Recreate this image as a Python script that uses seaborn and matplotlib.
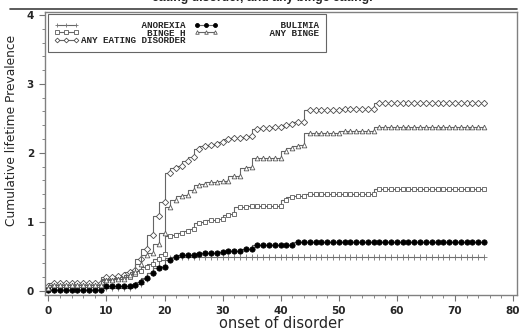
import pandas as pd
import seaborn as sns
import matplotlib.pyplot as plt
from matplotlib.lines import Line2D
from matplotlib.font_manager import FontProperties
from matplotlib.ticker import MultipleLocator

# Edad de inicio (0..75) y prevalencia acumulada por trastorno
ages = list(range(76))

anorexia = [0.01, 0.01, 0.01, 0.01, 0.01, 0.01, 0.01, 0.01, 0.01, 0.01,
            0.04, 0.04, 0.04, 0.04, 0.04, 0.06, 0.10, 0.17, 0.25, 0.36,
            0.44, 0.47, 0.49, 0.49, 0.49, 0.49, 0.49, 0.49, 0.49, 0.49,
            0.49, 0.49, 0.49, 0.49, 0.49, 0.49, 0.49, 0.49, 0.49, 0.49,
            0.49, 0.49, 0.49, 0.49, 0.49, 0.49, 0.49, 0.49, 0.49, 0.49,
            0.49, 0.49, 0.49, 0.49, 0.49, 0.49, 0.49, 0.49, 0.49, 0.49,
            0.49, 0.49, 0.49, 0.49, 0.49, 0.49, 0.49, 0.49, 0.49, 0.49,
            0.49, 0.49, 0.49, 0.49, 0.49, 0.49]

bulimia = [0.01, 0.01, 0.01, 0.01, 0.01, 0.01, 0.01, 0.01, 0.01, 0.01,
           0.06, 0.06, 0.06, 0.06, 0.06, 0.08, 0.12, 0.18, 0.26, 0.33,
           0.34, 0.45, 0.48, 0.51, 0.52, 0.52, 0.53, 0.54, 0.55, 0.55,
           0.56, 0.57, 0.57, 0.58, 0.60, 0.61, 0.66, 0.66, 0.66, 0.66,
           0.66, 0.66, 0.66, 0.70, 0.71, 0.71, 0.71, 0.71, 0.71, 0.71,
           0.71, 0.71, 0.71, 0.71, 0.71, 0.71, 0.71, 0.71, 0.71, 0.71,
           0.71, 0.71, 0.71, 0.71, 0.71, 0.71, 0.71, 0.71, 0.71, 0.71,
           0.71, 0.71, 0.71, 0.71, 0.71, 0.71]

binge_h = [0.03, 0.05, 0.05, 0.05, 0.05, 0.05, 0.05, 0.05, 0.05, 0.05,
           0.17, 0.17, 0.18, 0.19, 0.19, 0.24, 0.29, 0.34, 0.38, 0.46,
           0.53, 0.79, 0.80, 0.84, 0.86, 0.89, 0.98, 0.99, 1.02, 1.03,
           1.04, 1.10, 1.11, 1.22, 1.22, 1.23, 1.23, 1.23, 1.23, 1.23,
           1.23, 1.32, 1.36, 1.37, 1.37, 1.40, 1.40, 1.40, 1.40, 1.40,
           1.40, 1.40, 1.40, 1.40, 1.40, 1.40, 1.40, 1.47, 1.47, 1.47,
           1.47, 1.47, 1.47, 1.47, 1.47, 1.47, 1.47, 1.47, 1.47, 1.47,
           1.47, 1.47, 1.47, 1.47, 1.47, 1.47]

any_binge = [0.03, 0.08, 0.08, 0.08, 0.08, 0.08, 0.08, 0.08, 0.08, 0.08,
             0.15, 0.15, 0.16, 0.17, 0.22, 0.27, 0.38, 0.52, 0.55, 0.68,
             0.84, 1.22, 1.32, 1.37, 1.38, 1.46, 1.53, 1.54, 1.58, 1.58,
             1.59, 1.59, 1.66, 1.67, 1.78, 1.79, 1.92, 1.92, 1.92, 1.92,
             1.92, 2.03, 2.07, 2.10, 2.11, 2.29, 2.29, 2.29, 2.29, 2.29,
             2.29, 2.31, 2.31, 2.31, 2.31, 2.31, 2.31, 2.38, 2.38, 2.38,
             2.38, 2.38, 2.38, 2.38, 2.38, 2.38, 2.38, 2.38, 2.38, 2.38,
             2.38, 2.38, 2.38, 2.38, 2.38, 2.38]

any_eating = [0.06, 0.11, 0.11, 0.11, 0.11, 0.11, 0.11, 0.11, 0.11, 0.11,
              0.20, 0.20, 0.21, 0.22, 0.27, 0.30, 0.46, 0.60, 0.80, 1.08,
              1.28, 1.71, 1.78, 1.81, 1.88, 1.94, 2.06, 2.10, 2.12, 2.13,
              2.16, 2.20, 2.21, 2.22, 2.23, 2.24, 2.35, 2.36, 2.36, 2.38,
              2.38, 2.40, 2.42, 2.45, 2.45, 2.62, 2.62, 2.62, 2.62, 2.62,
              2.62, 2.63, 2.63, 2.63, 2.63, 2.63, 2.63, 2.72, 2.72, 2.72,
              2.72, 2.72, 2.72, 2.72, 2.72, 2.72, 2.72, 2.72, 2.72, 2.72,
              2.72, 2.72, 2.72, 2.72, 2.72, 2.72]

# orden = orden de la leyenda (columna 1 arriba-abajo, luego columna 2)
series = [
    ("ANOREXIA", anorexia, "+", "none", "0.45", 4.0),
    ("BINGE H", binge_h, "s", "white", "0.35", 3.1),
    ("ANY EATING DISORDER", any_eating, "D", "white", "0.3", 3.2),
    ("BULIMIA", bulimia, "o", "black", "black", 3.8),
    ("ANY BINGE", any_binge, "^", "white", "0.35", 3.4),
]
pad_width = {"ANOREXIA": 19, "BINGE H": 19, "ANY EATING DISORDER": 19,
             "BULIMIA": 18, "ANY BINGE": 18}

rows = []
for name, vals, *_ in series:
    for a, v in zip(ages, vals):
        rows.append({"age": a, "prev": v, "disorder": name})
df = pd.DataFrame(rows)

sns.set_style("ticks")

fig = plt.figure(figsize=(5.21, 3.31), dpi=100)
ax = fig.add_axes([0.0864, 0.1088, 0.905, 0.856])

for name, _, marker, mfc, mec, ms in series:
    sns.lineplot(
        data=df[df["disorder"] == name], x="age", y="prev", ax=ax,
        drawstyle="steps-pre", color="0.4", linewidth=0.8,
        marker=marker, markersize=ms, markerfacecolor=mfc,
        markeredgecolor=mec, markeredgewidth=0.6,
        label=name.rjust(pad_width[name]),
    )

ax.set_xlim(-0.57, 80.6)
ax.set_ylim(-0.065, 4.05)
ax.xaxis.set_major_locator(MultipleLocator(10))
ax.xaxis.set_minor_locator(MultipleLocator(2))
ax.yaxis.set_major_locator(MultipleLocator(1))
ax.yaxis.set_minor_locator(MultipleLocator(0.2))
ax.tick_params(which="major", direction="out", length=4, width=0.8,
               color="0.45", labelsize=7.5, pad=4)
ax.tick_params(which="minor", direction="out", length=2.5, width=0.6,
               color="0.45")
for lab in ax.get_xticklabels() + ax.get_yticklabels():
    lab.set_fontweight("bold")

for sp in ax.spines.values():
    sp.set_visible(True)
    sp.set_color("0.5")
    sp.set_linewidth(1.0)

ax.set_xlabel("onset of disorder", fontsize=10.5, labelpad=0)
ax.set_ylabel("Cumulative lifetime Prevalence", fontsize=8.8)
ax.yaxis.set_label_coords(-0.058, 0.58)

handles, labels = ax.get_legend_handles_labels()
leg = ax.legend(
    handles, labels, loc="upper left", bbox_to_anchor=(0.006, 0.99),
    ncol=2, numpoints=3, handlelength=2.6, handletextpad=0.25,
    columnspacing=0.9, labelspacing=-0.15, borderpad=0.7, borderaxespad=0,
    markerscale=0.75,
    prop=FontProperties(family="Liberation Mono", weight="bold", size=6.7),
    frameon=True, fancybox=False, framealpha=1,
)
leg.get_frame().set_edgecolor("0.4")
leg.get_frame().set_linewidth(0.8)

# titulo cortado en la parte superior
fig.text(0.503, 1 - 1.5 / 331, "eating disorder, and any binge eating.",
         ha="center", va="baseline", fontsize=8.8, fontweight="bold",
         family="Liberation Sans")
fig.add_artist(Line2D([10 / 521, 517 / 521], [1 - 9 / 331, 1 - 9 / 331],
                      color="0.25", linewidth=1.2))

plt.savefig("out.png", dpi=100)
plt.close()
